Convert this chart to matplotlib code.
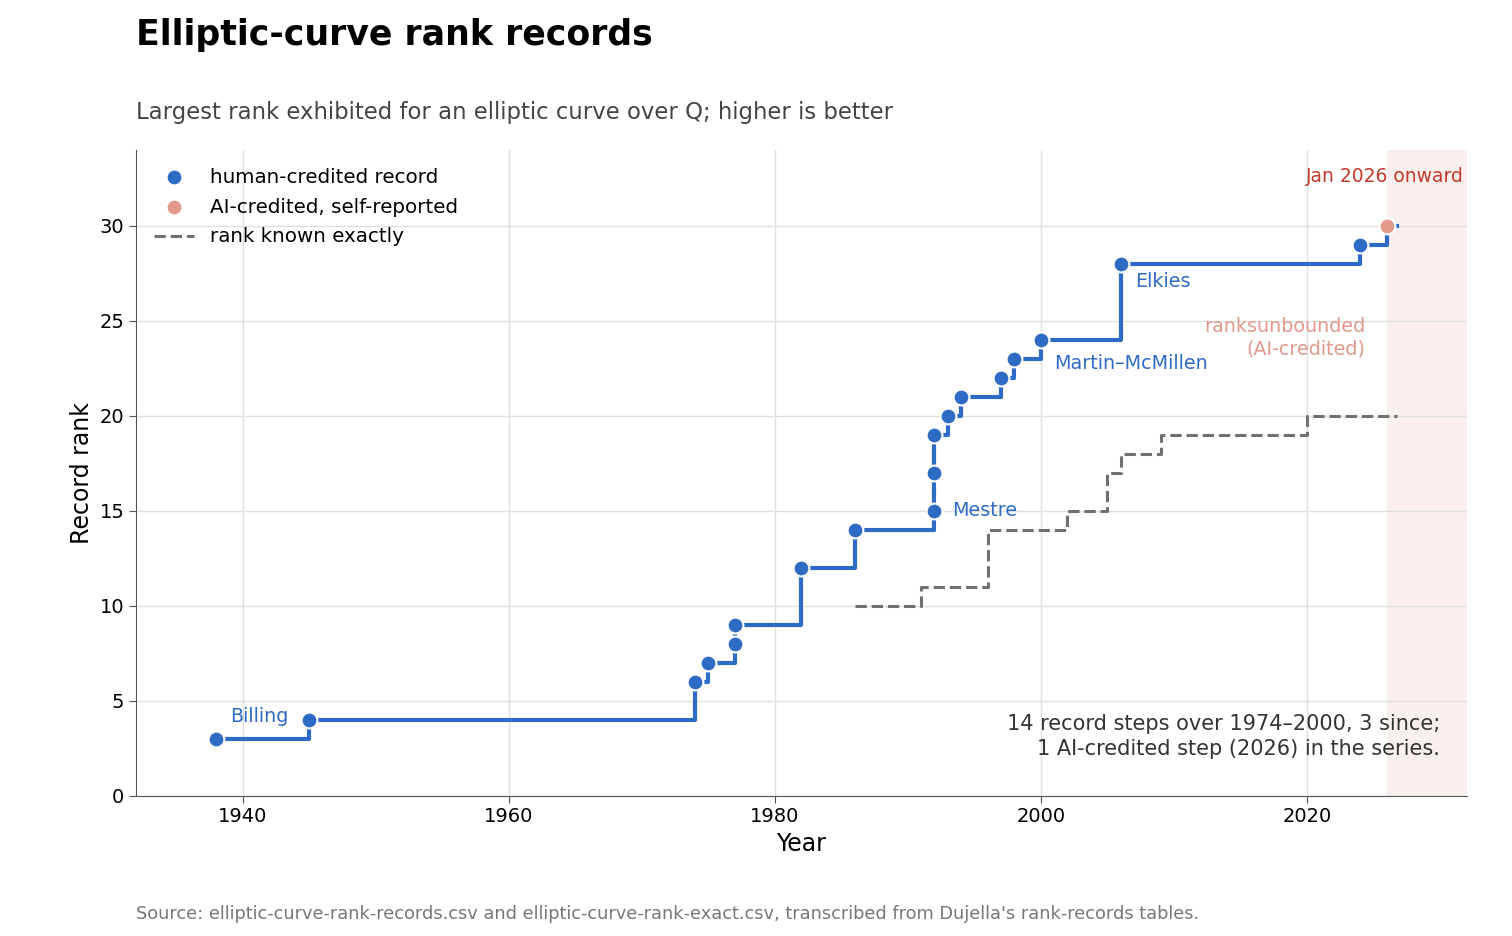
import matplotlib.pyplot as plt

# human-credited record steps
rec_year = [1938, 1945, 1974, 1975, 1977, 1977, 1982, 1986, 1992, 1992, 1992, 1993, 1994, 1997, 1998, 2000, 2006, 2024]
rec_rank = [3, 4, 6, 7, 8, 9, 12, 14, 15, 17, 19, 20, 21, 22, 23, 24, 28, 29]
ai_year = [2026.0]
ai_rank = [30]
end_year = 2026.8

# rank known exactly
ex_year = [1986, 1991, 1996, 2002, 2005, 2006, 2009, 2020, 2026.8]
ex_rank = [10, 11, 14, 15, 17, 18, 19, 20, 20]

blue = '#2d6bc4'
salmon = '#e0998a'
red = '#c0392b'

fig = plt.figure(figsize=(15.12, 9.36), dpi=100)
ax = fig.add_axes([0.09, 0.15, 0.88, 0.69])

ax.axvspan(2026, 2032, color='#f9ece9', alpha=0.8, zorder=0)
ax.text(2031.8, 32.6, 'Jan 2026 onward', color=red, fontsize=13.5, ha='right', va='center')

sx = rec_year + ai_year + [end_year]
sy = rec_rank + ai_rank + [ai_rank[-1]]
ax.step(sx, sy, where='post', color=blue, lw=3, zorder=2)
ax.step(ex_year, ex_rank, where='post', color='#707070', lw=2.2, ls='--', zorder=1,
        label='rank known exactly')
ax.scatter(rec_year, rec_rank, s=130, color=blue, edgecolor='white', lw=1.5, zorder=3,
           label='human-credited record')
ax.scatter(ai_year, ai_rank, s=130, color=salmon, edgecolor='white', lw=1.5, zorder=3,
           label='AI-credited, self-reported')

lab = dict(color=blue, fontsize=13.8)
ax.text(1939.1, 3.85, 'Billing', **lab)
ax.text(1993.3, 15.0, 'Mestre', va='center', **lab)
ax.text(2001.0, 22.75, 'Martin–McMillen', va='center', **lab)
ax.text(2007.1, 27.05, 'Elkies', va='center', **lab)
ax.text(2024.4, 24.1, 'ranksunbounded\n(AI-credited)', color=salmon, fontsize=13.8,
        ha='right', va='center', linespacing=1.25)
ax.text(2030.0, 3.1, '14 record steps over 1974–2000, 3 since;\n1 AI-credited step (2026) in the series.',
        ha='right', va='center', fontsize=15, color='#333333', linespacing=1.3)

ax.set_xlim(1932, 2032)
ax.set_ylim(0, 34)
ax.set_yticks([0, 5, 10, 15, 20, 25, 30])
ax.set_xticks([1940, 1960, 1980, 2000, 2020])
ax.grid(True, color='#e0e0e0', lw=1)
ax.set_axisbelow(True)
for s in ['top', 'right']:
    ax.spines[s].set_visible(False)
for s in ['left', 'bottom']:
    ax.spines[s].set_color('#555555')
ax.tick_params(labelsize=14, length=5, color='#555555')
ax.set_xlabel('Year', fontsize=17)
ax.set_ylabel('Record rank', fontsize=17)

h, l = ax.get_legend_handles_labels()
order = [1, 2, 0]
ax.legend([h[i] for i in order], [l[i] for i in order], loc='upper left', frameon=False,
          fontsize=14.3, handlelength=2, borderaxespad=0.5, labelspacing=0.55)

fig.text(0.09, 0.963, 'Elliptic-curve rank records', fontsize=25, fontweight='bold', va='center')
fig.text(0.09, 0.88, 'Largest rank exhibited for an elliptic curve over Q; higher is better',
         fontsize=16.4, color='#444444', va='center')
fig.text(0.09, 0.024, "Source: elliptic-curve-rank-records.csv and elliptic-curve-rank-exact.csv, "
         "transcribed from Dujella's rank-records tables.", fontsize=12.8, color='#777777', va='center')

fig.savefig('out.png', dpi=100)
